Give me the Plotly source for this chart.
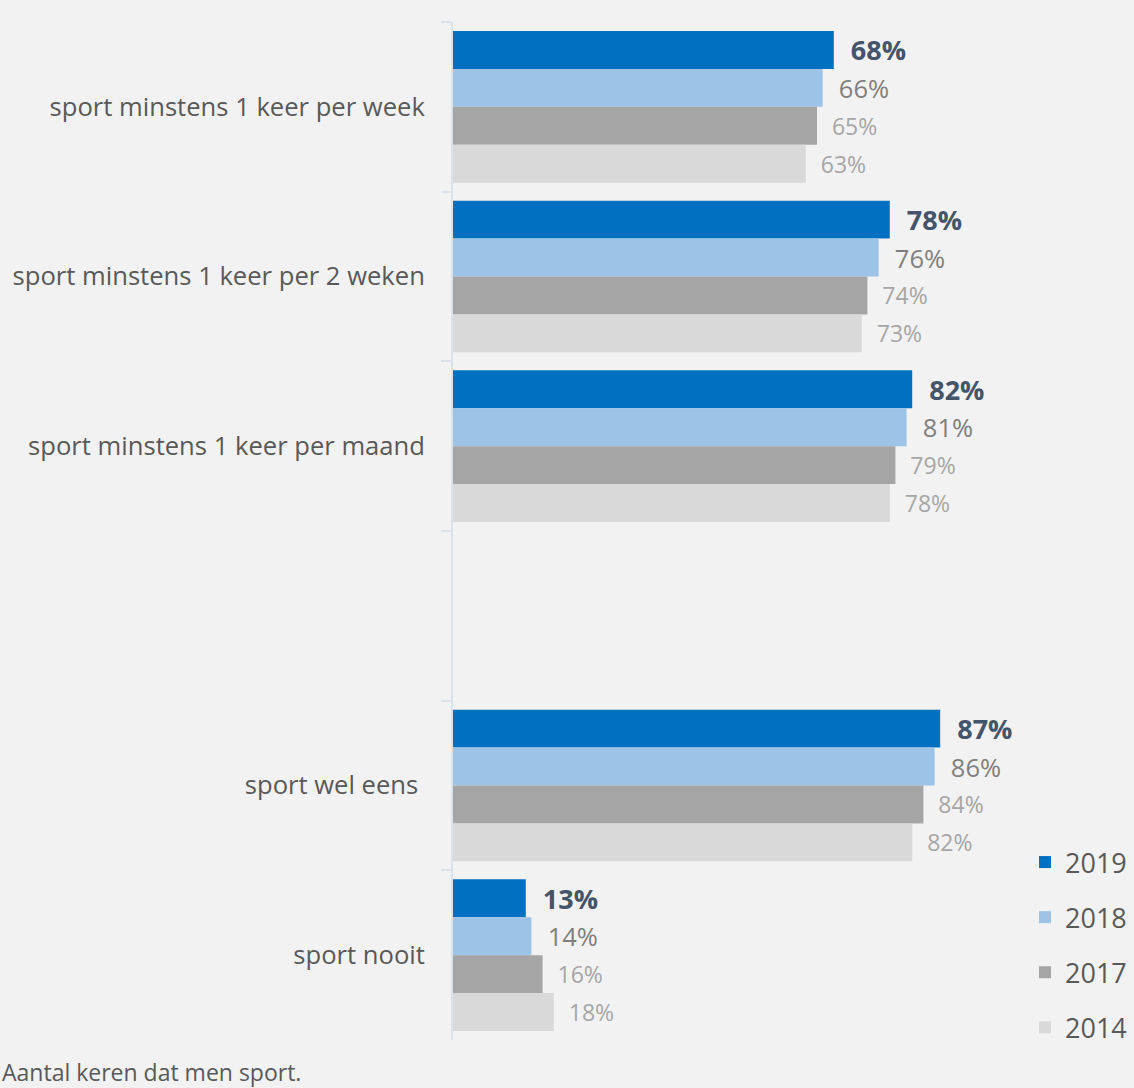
import plotly.graph_objects as go

categories = [
    "sport minstens 1 keer per week",
    "sport minstens 1 keer per 2 weken",
    "sport minstens 1 keer per maand",
    " ",
    "sport wel eens ",
    "sport nooit",
]
years = ["2019", "2018", "2017", "2014"]
values = {
    "2019": [68, 78, 82, None, 87, 13],
    "2018": [66, 76, 81, None, 86, 14],
    "2017": [65, 74, 79, None, 84, 16],
    "2014": [63, 73, 78, None, 82, 18],
}
caption = "Aantal keren dat men sport."

colors = {"2019": "#0070c0", "2018": "#9dc3e6", "2017": "#a5a5a5", "2014": "#d9d9d9"}
label_colors = {"2019": "#44546a", "2018": "#7f7f7f", "2017": "#a6a6a6", "2014": "#a6a6a6"}
label_sizes = {"2019": 27, "2018": 25.5, "2017": 23, "2014": 23}
label_bold = {"2019": True, "2018": False, "2017": False, "2014": False}

FONT = "Open Sans"
fig = go.Figure()
for yr in years:
    tpl = "\u00a0\u00a0%{x}%"
    if label_bold[yr]:
        tpl = "\u00a0\u00a0<b>%{x}%</b>"
    fig.add_trace(go.Bar(
        name=yr,
        y=categories,
        x=values[yr],
        orientation="h",
        marker=dict(color=colors[yr], line=dict(width=0)),
        texttemplate=tpl,
        textposition="outside",
        textfont=dict(family=FONT, size=label_sizes[yr], color=label_colors[yr]),
        constraintext="none",
        cliponaxis=False,
        legendgroup=yr,
        hoverinfo="skip",
    ))

W, H = 1134, 1088
ml, mr, mt, mb = 453, 121, 22, 48
pw, ph = W - ml - mr, H - mt - mb

fig.update_layout(
    width=W, height=H,
    margin=dict(l=ml, r=mr, t=mt, b=mb, pad=0),
    paper_bgcolor="#f2f2f2",
    plot_bgcolor="#f2f2f2",
    barmode="group",
    bargap=0.106,
    bargroupgap=0,
    font=dict(family=FONT, color="#595959"),
    xaxis=dict(range=[0, 100], visible=False, showgrid=False, zeroline=False),
    yaxis=dict(
        type="category",
        categoryorder="array",
        categoryarray=categories,
        autorange="reversed",
        showline=True, linecolor="#dbe2ea", linewidth=2,
        ticks="outside", tickson="boundaries", ticklen=10, tickwidth=2, tickcolor="#dbe2ea",
        tickfont=dict(family=FONT, size=25.6, color="#595959"),
        ticklabelstandoff=21,
        showgrid=False, zeroline=False,
    ),
    legend=dict(
        xref="container", yref="container",
        x=1025 / W, y=(H - 1052) / H, xanchor="left", yanchor="bottom",
        traceorder="grouped", tracegroupgap=17,
        font=dict(family=FONT, size=27, color="#595959"),
        bgcolor="rgba(0,0,0,0)",
    ),
    showlegend=True,
)

fig.add_annotation(
    text=caption, xref="paper", yref="paper",
    x=-ml / pw, y=-(1072 - (mt + ph)) / ph,
    xanchor="left", yanchor="middle", showarrow=False,
    font=dict(family=FONT, size=23, color="#595959"),
)

fig.write_html(
    "out.html",
    config={"displayModeBar": False},
    post_script="document.body.style.margin='0';document.body.style.overflow='hidden';",
)
